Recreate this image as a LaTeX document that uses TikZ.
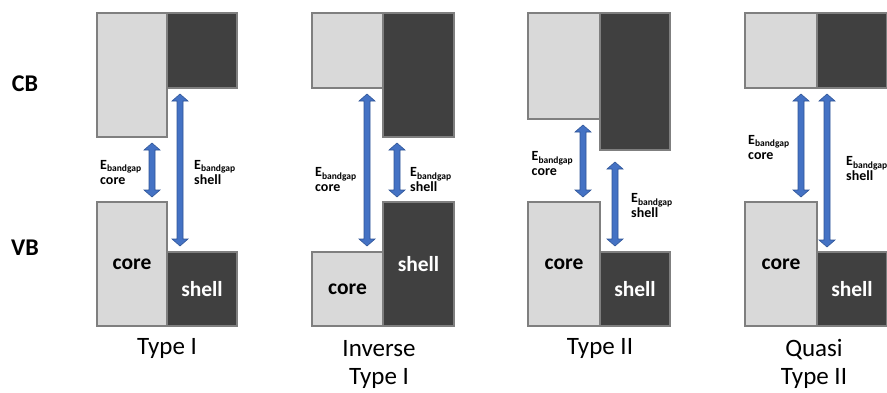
\documentclass[tikz,border=0pt]{standalone}
\usepackage{fontspec}
\setmainfont{Carlito}
\usetikzlibrary{fit}

\definecolor{corefill}{HTML}{D9D9D9}
\definecolor{shellfill}{HTML}{404040}
\definecolor{bandedge}{HTML}{7F7F7F}
\definecolor{arrowfill}{HTML}{4472C4}
\definecolor{arrowedge}{HTML}{2F5597}

\tikzset{
  band/.style={draw=bandedge, line width=1.5pt, inner sep=0pt},
  coreband/.style={band, fill=corefill},
  shellband/.style={band, fill=shellfill},
  bandtext/.style={inner sep=0pt, font=\fontsize{21.5}{24}\selectfont\bfseries},
  coretext/.style={bandtext, text=black},
  shelltext/.style={bandtext, text=white},
  gaplabel/.style={anchor=west, align=left, inner sep=0pt,
    font=\fontsize{14}{15}\selectfont\bfseries},
  levellabel/.style={inner sep=0pt, font=\fontsize{24}{26}\selectfont\bfseries},
  typelabel/.style={align=center, inner sep=0pt, font=\fontsize{25}{28}\selectfont},
  gaparrow/.style={fill=arrowfill, draw=arrowedge, line width=0.6pt, line join=miter},
}

% band rectangle: name, style, x1, y1, x2, y2
\newcommand{\bandbox}[6]{%
  \node[#2, fit={(#3,#4) (#5,#6)}] (#1) {};}

% vertical block double arrow: x, top tip, bottom tip
\newcommand{\gaparrow}[3]{%
  \draw[gaparrow] (#1-3,#2+7) -- (#1-8,#2+7) -- (#1,#2) -- (#1+8,#2+7)
    -- (#1+3,#2+7) -- (#1+3,#3-7) -- (#1+8,#3-7) -- (#1,#3)
    -- (#1-8,#3-7) -- (#1-3,#3-7) -- cycle;}

\newcommand{\Egap}{E\raisebox{-0.35ex}{\fontsize{9.5}{10}\selectfont bandgap}}

\begin{document}
\begin{tikzpicture}[x=1pt, y=-1pt]
  \useasboundingbox (0,0) rectangle (887,392);

  % level labels
  \node[levellabel] (cb) at (25,84) {CB};
  \node[levellabel] (vb) at (25,248) {VB};

  % ---- Type I ----
  \bandbox{ta-cc}{coreband}{97}{13}{167}{137}
  \bandbox{ta-sc}{shellband}{167}{13}{237}{88}
  \bandbox{ta-cv}{coreband}{97}{202}{167}{326}
  \bandbox{ta-sv}{shellband}{167}{252}{237}{326}
  \node[coretext] (ta-ct) at (ta-cv.center) {core};
  \node[shelltext] (ta-st) at (ta-sv.center) {shell};
  \gaparrow{152}{143}{197}
  \gaparrow{180}{94}{246}
  \node[gaplabel] (ta-gc) at (100,172.5) {\Egap\\core};
  \node[gaplabel] (ta-gs) at (194,172.5) {\Egap\\shell};
  \node[typelabel] (ta) at (167,348) {Type I};

  % ---- Inverse Type I ----
  \bandbox{tb-cc}{coreband}{312}{13}{383}{88}
  \bandbox{tb-sc}{shellband}{383}{13}{454}{137}
  \bandbox{tb-cv}{coreband}{312}{252}{383}{326}
  \bandbox{tb-sv}{shellband}{383}{202}{454}{326}
  \node[coretext] (tb-ct) at (tb-cv.center) {core};
  \node[shelltext] (tb-st) at (tb-sv.center) {shell};
  \gaparrow{367}{94}{246}
  \gaparrow{397}{143}{197}
  \node[gaplabel] (tb-gc) at (315,180) {\Egap\\core};
  \node[gaplabel] (tb-gs) at (410,180) {\Egap\\shell};
  \node[typelabel] (tb) at (379,364) {Inverse\\Type I};

  % ---- Type II ----
  \bandbox{tc-cc}{coreband}{528}{13}{600}{119}
  \bandbox{tc-sc}{shellband}{600}{13}{670}{150}
  \bandbox{tc-cv}{coreband}{528}{202}{600}{326}
  \bandbox{tc-sv}{shellband}{600}{252}{670}{326}
  \node[coretext] (tc-ct) at (tc-cv.center) {core};
  \node[shelltext] (tc-st) at (tc-sv.center) {shell};
  \gaparrow{583}{125}{197}
  \gaparrow{615}{162}{246}
  \node[gaplabel] (tc-gc) at (531.5,164) {\Egap\\core};
  \node[gaplabel] (tc-gs) at (631,206) {\Egap\\shell};
  \node[typelabel] (tc) at (600,348) {Type II};

  % ---- Quasi Type II ----
  \bandbox{td-cc}{coreband}{745}{13}{817}{88}
  \bandbox{td-sc}{shellband}{817}{13}{887}{88}
  \bandbox{td-cv}{coreband}{745}{202}{817}{326}
  \bandbox{td-sv}{shellband}{817}{252}{887}{326}
  \node[coretext] (td-ct) at (td-cv.center) {core};
  \node[shelltext] (td-st) at (td-sv.center) {shell};
  \gaparrow{801}{94}{197}
  \gaparrow{827}{94}{247}
  \node[gaplabel] (td-gc) at (748,147.5) {\Egap\\core};
  \node[gaplabel] (td-gs) at (846,169) {\Egap\\shell};
  \node[typelabel] (td) at (814,364) {Quasi\\Type II};
\end{tikzpicture}
\end{document}
